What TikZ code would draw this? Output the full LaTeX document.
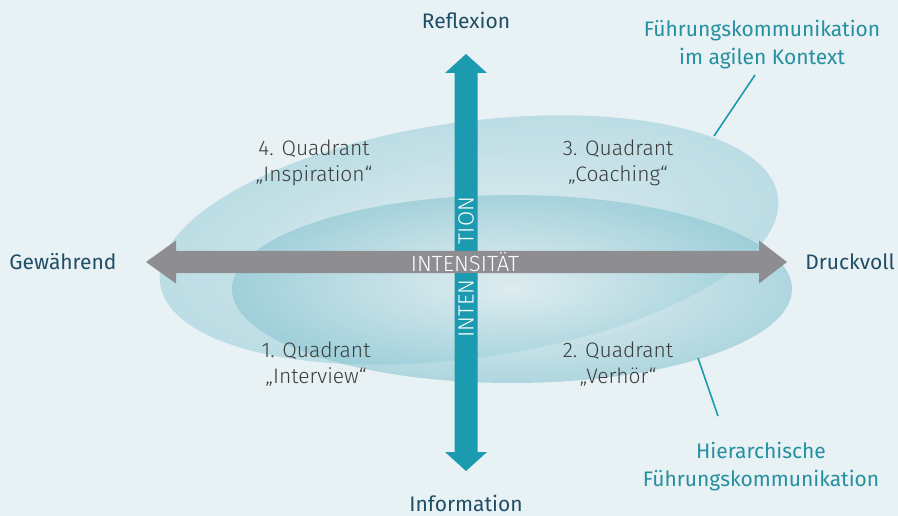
\documentclass[tikz,border=0pt]{standalone}
\usepackage{fontspec}
\setmainfont{Fira Sans}
\newfontfamily\lightfont{Fira Sans Light}
\definecolor{bg}{RGB}{232,241,244}
\definecolor{tealarrow}{RGB}{28,154,175}
\definecolor{grayarrow}{RGB}{142,142,146}
\definecolor{darklabel}{RGB}{31,78,102}
\definecolor{teallabel}{RGB}{36,144,160}
\definecolor{quadtext}{RGB}{60,60,60}
\definecolor{upin}{RGB}{214,231,236}
\definecolor{upout}{RGB}{159,209,219}
\definecolor{lowin}{RGB}{232,242,244}
\definecolor{lowout}{RGB}{137,197,209}
\tikzset{
  axislabel/.style={text=darklabel, font=\fontsize{21}{25}\selectfont, inner sep=0pt},
  sidelabel/.style={text=teallabel, font=\fontsize{21}{28}\selectfont, align=center, inner sep=0pt},
  quadlabel/.style={text=quadtext, font=\lightfont\fontsize{21}{26}\selectfont, align=center, inner sep=0pt},
  bartext/.style={text=white, font=\lightfont\fontsize{22}{22}\selectfont, inner sep=0pt},
  leader/.style={draw=tealarrow, line width=1.6pt},
}
\begin{document}
\begin{tikzpicture}[x=1pt,y=-1pt]
\useasboundingbox (0,0) rectangle (898,516);
\fill[bg] (0,0) rectangle (898,516);

% ellipses
\shade[inner color=upin, outer color=upout, fill opacity=0.6,
  transform canvas={shift={(469,240)},rotate=8}]
  (0,0) ellipse [x radius=312pt, y radius=118pt];
\shade[inner color=lowin, outer color=lowout, fill opacity=0.6]
  (512,289) ellipse [x radius=280pt, y radius=94pt];

% vertical arrow
\fill[tealarrow] (454.5,73) -- (445,73) -- (466,54) -- (487,73) -- (477.5,73)
  -- (477.5,452) -- (487,452) -- (466,471) -- (445,452) -- (454.5,452) -- cycle;
\node[bartext, rotate=90] (inten) at (466,308.5) {INTEN};
\node[bartext, rotate=90] (tion) at (466,220.5) {TION};

% horizontal arrow
\fill[grayarrow] (176,251) -- (176,240.5) -- (146,262) -- (176,283.5) -- (176,273)
  -- (759,273) -- (759,283.5) -- (787,262) -- (759,240.5) -- (759,251) -- cycle;
\node[bartext] (intens) at (465,262) {INTENSITÄT};

% axis labels
\node[axislabel] (refl) at (466,20) {Reflexion};
\node[axislabel] (info) at (466,503) {Information};
\node[axislabel] (gew) at (63,262) {Gewährend};
\node[axislabel] (druck) at (850,262) {Druckvoll};

% quadrant labels
\node[quadlabel] (q4) at (314,163) {4. Quadrant\\„Inspiration“};
\node[quadlabel] (q3) at (618,163) {3. Quadrant\\„Coaching“};
\node[quadlabel] (q1) at (316,364) {1. Quadrant\\„Interview“};
\node[quadlabel] (q2) at (618,364) {2. Quadrant\\„Verhör“};

% side labels
\node[sidelabel] (agil) at (762,45) {Führungskommunikation\\im agilen Kontext};
\node[sidelabel] (hier) at (761,467) {Hierarchische\\Führungskommunikation};
\coordinate (a1) at (755,75);
\coordinate (a2) at (714,136);
\coordinate (h1) at (698,358);
\coordinate (h2) at (718,416);
\draw[leader] (a1) -- (a2);
\draw[leader] (h1) -- (h2);
\end{tikzpicture}
\end{document}
